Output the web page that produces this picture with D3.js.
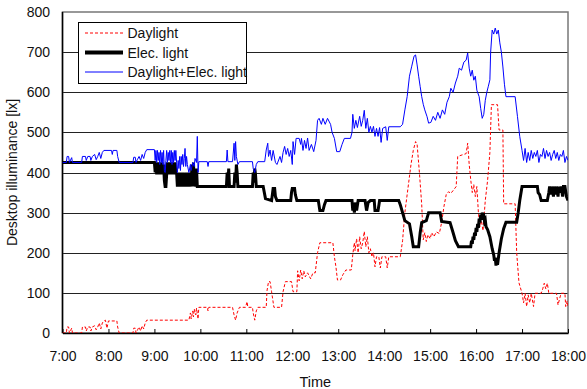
<!DOCTYPE html>
<html>
<head>
<meta charset="utf-8">
<script src="https://cdn.jsdelivr.net/npm/d3@7"></script>
<style>
  body { margin: 0; background: #fff; }
  text { font-family: "Liberation Sans", Arial, sans-serif; fill: #111; }
</style>
</head>
<body>
<div id="chart"></div>
<script>
const yTicks = [0, 100, 200, 300, 400, 500, 600, 700, 800];
const xStart = '7:00';
const xEnd = '18:00';

const seriesNames = ['Daylight', 'Elec. light', 'Daylight+Elec. light'];

// [time, lx]
const daylight = [
  ['7:00', 0], ['7:05', 0], ['7:06', 15], ['7:08', 15], ['7:09', 0], ['7:12', 12], ['7:13', 0],
  ['7:25', 0], ['7:26', 15], ['7:30', 15], ['7:31', 5], ['7:33', 15], ['7:36', 15], ['7:37', 5],
  ['7:39', 15], ['7:42', 18], ['7:44', 8], ['7:46', 15], ['7:48', 25], ['7:50', 10], ['7:52', 25],
  ['7:54', 30], ['7:56', 32], ['7:58', 12], ['8:00', 30], ['8:11', 30], ['8:12', 15], ['8:14', 0],
  ['8:32', 0], ['8:33', 12], ['8:35', 12], ['8:36', 0], ['8:38', 8], ['8:40', 15], ['8:42', 5],
  ['8:44', 18], ['8:46', 10], ['8:48', 25], ['8:50', 32], ['9:45', 32], ['9:47', 50], ['9:48', 35],
  ['9:50', 55], ['9:51', 40], ['9:52', 60], ['9:54', 45], ['9:55', 62], ['9:57', 35], ['9:58', 64],
  ['10:09', 64], ['10:10', 55], ['10:11', 64], ['10:42', 64], ['10:44', 45], ['10:46', 32],
  ['10:48', 50], ['10:51', 64], ['10:59', 64], ['11:01', 78], ['11:02', 64], ['11:08', 64],
  ['11:09', 50], ['11:11', 32], ['11:13', 55], ['11:15', 64], ['11:26', 64], ['11:27', 105],
  ['11:29', 128], ['11:31', 128], ['11:33', 103], ['11:36', 64], ['11:46', 64], ['11:48', 103],
  ['11:51', 128], ['11:59', 128], ['12:01', 103], ['12:06', 103], ['12:07', 155], ['12:09', 130],
  ['12:11', 157], ['12:13', 135], ['12:15', 155], ['12:17', 140], ['12:20', 150], ['12:24', 135],
  ['12:27', 150], ['12:30', 150], ['12:33', 200], ['12:36', 225], ['12:53', 225], ['12:55', 190],
  ['12:57', 165], ['12:59', 132], ['13:03', 132], ['13:06', 145], ['13:10', 157], ['13:17', 157],
  ['13:19', 195], ['13:21', 225], ['13:22', 205], ['13:24', 235], ['13:26', 200], ['13:28', 240],
  ['13:30', 210], ['13:32', 225], ['13:34', 253], ['13:36', 215], ['13:38', 240], ['13:40', 200],
  ['13:42', 210], ['13:44', 190], ['13:46', 200], ['13:48', 165], ['13:50', 190], ['13:53', 190],
  ['13:55', 162], ['13:57', 190], ['14:02', 190], ['14:04', 162], ['14:06', 190], ['14:21', 190],
  ['14:24', 230], ['14:27', 300], ['14:31', 360], ['14:35', 420], ['14:38', 455], ['14:41', 477],
  ['14:43', 470], ['14:46', 400], ['14:49', 320], ['14:51', 232], ['14:53', 250], ['14:55', 228],
  ['14:57', 245], ['15:00', 235], ['15:02', 250], ['15:05', 240], ['15:08', 252], ['15:12', 248],
  ['15:15', 275], ['15:18', 315], ['15:21', 345], ['15:24', 352], ['15:27', 348], ['15:30', 355],
  ['15:34', 365], ['15:36', 440], ['15:42', 444], ['15:47', 447], ['15:49', 473], ['15:51', 420],
  ['15:53', 382], ['15:55', 350], ['15:57', 370], ['15:59', 340], ['16:01', 365], ['16:03', 300],
  ['16:05', 265], ['16:07', 280], ['16:09', 255], ['16:12', 330], ['16:15', 380], ['16:18', 450],
  ['16:20', 569], ['16:28', 569], ['16:30', 506], ['16:35', 506], ['16:36', 322], ['16:51', 322],
  ['16:53', 200], ['16:56', 125], ['17:00', 99], ['17:02', 75], ['17:04', 99], ['17:06', 66],
  ['17:08', 95], ['17:10', 75], ['17:12', 99], ['17:15', 66], ['17:17', 99], ['17:25', 99],
  ['17:27', 110], ['17:29', 124], ['17:31', 110], ['17:33', 124], ['17:35', 99], ['17:45', 99],
  ['17:47', 70], ['17:49', 85], ['17:51', 99], ['17:56', 99], ['17:57', 66], ['17:59', 80],
  ['18:00', 66]
];

const elecLight = [
  ['7:00', 425], ['9:00', 425], ['9:01', 400], ['9:02', 425], ['9:03', 395], ['9:04', 425],
  ['9:05', 395], ['9:06', 425], ['9:07', 395], ['9:08', 425], ['9:09', 395], ['9:10', 425],
  ['9:11', 395], ['9:12', 420], ['9:13', 380], ['9:14', 365], ['9:15', 365], ['9:16', 395],
  ['9:17', 425], ['9:18', 395], ['9:19', 425], ['9:20', 395], ['9:21', 425], ['9:22', 395],
  ['9:23', 425], ['9:24', 395], ['9:25', 425], ['9:26', 395], ['9:27', 425], ['9:28', 395],
  ['9:29', 400], ['9:30', 365], ['9:31', 400], ['9:32', 365], ['9:33', 400], ['9:34', 365],
  ['9:35', 400], ['9:36', 365], ['9:37', 400], ['9:38', 365], ['9:39', 395], ['9:40', 365],
  ['9:41', 400], ['9:42', 365], ['9:43', 400], ['9:44', 365], ['9:45', 395], ['9:46', 365],
  ['9:47', 400], ['9:48', 365], ['9:49', 420], ['9:50', 365], ['9:51', 425], ['9:52', 370],
  ['9:53', 400], ['9:54', 365], ['9:55', 410], ['9:56', 365], ['10:34', 365], ['10:35', 400],
  ['10:36', 370], ['10:37', 410], ['10:38', 365], ['10:44', 365], ['10:45', 400], ['10:46', 375],
  ['10:47', 420], ['10:48', 400], ['10:49', 365], ['11:08', 365], ['11:09', 400], ['11:10', 375],
  ['11:11', 410], ['11:12', 395], ['11:13', 365], ['11:22', 365], ['11:25', 335], ['11:33', 330],
  ['11:34', 345], ['11:35', 360], ['11:37', 360], ['11:38', 340], ['11:40', 330], ['11:58', 330],
  ['11:59', 350], ['12:00', 360], ['12:03', 360], ['12:04', 345], ['12:06', 330], ['12:34', 330],
  ['12:36', 305], ['12:40', 305], ['12:42', 320], ['12:44', 330], ['13:18', 330], ['13:19', 305],
  ['13:20', 325], ['13:21', 300], ['13:23', 325], ['13:24', 305], ['13:26', 330], ['13:35', 330],
  ['13:37', 305], ['13:39', 325], ['13:42', 330], ['13:47', 330], ['13:48', 305], ['13:52', 305],
  ['13:54', 330], ['14:19', 330], ['14:21', 320], ['14:24', 300], ['14:27', 280], ['14:33', 272],
  ['14:36', 240], ['14:38', 215], ['14:45', 215], ['14:47', 250], ['14:49', 275], ['14:55', 280],
  ['14:58', 300], ['15:13', 300], ['15:15', 278], ['15:26', 275], ['15:30', 250], ['15:33', 230],
  ['15:37', 215], ['15:53', 215], ['15:54', 230], ['15:55', 222], ['15:56', 240], ['15:57', 232],
  ['15:58', 250], ['15:59', 242], ['16:00', 262], ['16:01', 252], ['16:02', 272], ['16:03', 262],
  ['16:04', 285], ['16:05', 275], ['16:06', 295], ['16:07', 282], ['16:08', 300], ['16:09', 290],
  ['16:10', 292], ['16:11', 278], ['16:12', 282], ['16:13', 265], ['16:15', 258], ['16:18', 240],
  ['16:21', 210], ['16:23', 195], ['16:24', 180], ['16:25', 188], ['16:26', 168], ['16:27', 182],
  ['16:28', 170], ['16:30', 200], ['16:33', 235], ['16:36', 260], ['16:39', 276], ['16:53', 276],
  ['16:55', 300], ['16:57', 330], ['17:00', 365], ['17:20', 365], ['17:21', 350], ['17:23', 345],
  ['17:25', 330], ['17:33', 330], ['17:35', 350], ['17:36', 365], ['17:38', 345], ['17:39', 365],
  ['17:41', 340], ['17:42', 365], ['17:44', 345], ['17:45', 365], ['17:47', 340], ['17:48', 365],
  ['17:50', 350], ['17:51', 365], ['17:53', 340], ['17:54', 365], ['17:56', 365], ['17:58', 340],
  ['18:00', 330]
];

const total = [
  ['7:00', 425], ['7:05', 425], ['7:06', 440], ['7:08', 440], ['7:09', 425], ['7:12', 437],
  ['7:13', 425], ['7:25', 425], ['7:26', 440], ['7:30', 440], ['7:31', 430], ['7:33', 440],
  ['7:36', 440], ['7:37', 430], ['7:39', 440], ['7:42', 445], ['7:44', 432], ['7:46', 440],
  ['7:48', 450], ['7:50', 435], ['7:52', 450], ['7:54', 455], ['8:04', 455], ['8:05', 445],
  ['8:06', 455], ['8:11', 455], ['8:12', 440], ['8:14', 425], ['8:32', 425], ['8:33', 438],
  ['8:35', 438], ['8:36', 425], ['8:38', 433], ['8:40', 440], ['8:42', 430], ['8:44', 445],
  ['8:46', 435], ['8:48', 450], ['8:50', 457], ['9:00', 457], ['9:01', 430], ['9:02', 455],
  ['9:03', 425], ['9:04', 455], ['9:05', 430], ['9:06', 450], ['9:07', 420], ['9:08', 455],
  ['9:09', 425], ['9:10', 450], ['9:11', 420], ['9:12', 455], ['9:13', 405], ['9:14', 400],
  ['9:15', 430], ['9:16', 455], ['9:17', 425], ['9:18', 450], ['9:19', 430], ['9:20', 455],
  ['9:21', 425], ['9:22', 455], ['9:23', 420], ['9:24', 450], ['9:25', 425], ['9:26', 455],
  ['9:27', 430], ['9:28', 455], ['9:29', 425], ['9:30', 400], ['9:31', 430], ['9:32', 410],
  ['9:33', 440], ['9:34', 405], ['9:35', 440], ['9:36', 420], ['9:37', 445], ['9:38', 415],
  ['9:39', 435], ['9:40', 460], ['9:41', 415], ['9:42', 440], ['9:43', 420], ['9:45', 400],
  ['9:47', 420], ['9:48', 405], ['9:50', 425], ['9:52', 415], ['9:53', 435], ['9:55', 425],
  ['9:56', 490], ['9:57', 400], ['9:58', 427], ['10:09', 427], ['10:10', 415], ['10:11', 427],
  ['10:34', 427], ['10:35', 456], ['10:36', 427], ['10:42', 427], ['10:44', 473], ['10:45', 430],
  ['10:46', 477], ['10:47', 440], ['10:49', 420], ['10:51', 427], ['11:08', 427], ['11:09', 410],
  ['11:11', 400], ['11:13', 420], ['11:15', 427], ['11:24', 427], ['11:26', 456], ['11:28', 473],
  ['11:29', 440], ['11:31', 456], ['11:33', 430], ['11:35', 455], ['11:38', 425], ['11:40', 420],
  ['11:44', 440], ['11:46', 425], ['11:48', 450], ['11:50', 465], ['11:52', 445], ['11:54', 460],
  ['11:56', 440], ['11:58', 455], ['12:00', 420], ['12:01', 477], ['12:03', 445], ['12:05', 485],
  ['12:09', 485], ['12:11', 470], ['12:12', 485], ['12:14', 455], ['12:16', 480], ['12:18', 460],
  ['12:20', 486], ['12:22', 455], ['12:25', 470], ['12:28', 452], ['12:31', 480], ['12:33', 530],
  ['12:35', 535], ['12:38', 520], ['12:40', 535], ['12:43', 520], ['12:46', 535], ['12:50', 520],
  ['12:52', 500], ['12:55', 485], ['12:58', 452], ['13:02', 452], ['13:05', 470], ['13:08', 485],
  ['13:16', 485], ['13:18', 500], ['13:19', 545], ['13:21', 510], ['13:23', 530], ['13:25', 512],
  ['13:28', 540], ['13:30', 515], ['13:32', 530], ['13:34', 555], ['13:36', 510], ['13:38', 535],
  ['13:40', 500], ['13:42', 515], ['13:44', 500], ['13:46', 515], ['13:48', 490], ['13:50', 510],
  ['13:52', 490], ['13:54', 512], ['13:56', 475], ['13:58', 510], ['14:02', 514], ['14:04', 480],
  ['14:06', 514], ['14:21', 514], ['14:24', 520], ['14:27', 556], ['14:30', 589], ['14:33', 640],
  ['14:36', 665], ['14:39', 690], ['14:41', 693], ['14:43', 668], ['14:45', 640], ['14:47', 614],
  ['14:49', 589], ['14:51', 570], ['14:53', 556], ['14:56', 539], ['14:58', 523], ['15:01', 525],
  ['15:04', 540], ['15:07', 530], ['15:10', 550], ['15:13', 535], ['15:16', 556], ['15:19', 545],
  ['15:22', 575], ['15:25', 589], ['15:27', 610], ['15:30', 600], ['15:33', 623], ['15:36', 640],
  ['15:38', 660], ['15:41', 655], ['15:44', 675], ['15:47', 680], ['15:49', 698], ['15:51', 660],
  ['15:53', 640], ['15:55', 655], ['15:57', 630], ['15:59', 640], ['16:01', 605], ['16:04', 589],
  ['16:06', 560], ['16:08', 535], ['16:10', 545], ['16:12', 580], ['16:14', 600], ['16:16', 615],
  ['16:18', 631], ['16:19', 700], ['16:21', 755], ['16:23', 745], ['16:25', 760], ['16:27', 745],
  ['16:29', 755], ['16:31', 723], ['16:33', 700], ['16:35', 663], ['16:37', 620], ['16:39', 589],
  ['16:51', 589], ['16:54', 540], ['16:57', 490], ['17:00', 455], ['17:02', 430], ['17:04', 460],
  ['17:06', 425], ['17:08', 450], ['17:10', 430], ['17:12', 455], ['17:14', 435], ['17:16', 450],
  ['17:18', 440], ['17:20', 455], ['17:22', 425], ['17:24', 445], ['17:26', 440], ['17:28', 460],
  ['17:30', 435], ['17:32', 455], ['17:34', 440], ['17:36', 450], ['17:38', 430], ['17:40', 445],
  ['17:42', 455], ['17:44', 435], ['17:46', 450], ['17:48', 430], ['17:50', 445], ['17:52', 440],
  ['17:54', 455], ['17:56', 425], ['17:58', 440], ['18:00', 430]
];

const width = 587;
const height = 389;
const margin = { top: 12, right: 19, bottom: 56, left: 62.5 };

const parseTime = d3.timeParse('%H:%M');

const svg = d3.select('#chart')
  .append('svg')
  .attr('width', width)
  .attr('height', height);

const x = d3.scaleTime()
  .domain([parseTime(xStart), parseTime(xEnd)])
  .range([margin.left, width - margin.right]);

const y = d3.scaleLinear()
  .domain([0, 800])
  .range([height - margin.bottom, margin.top]);

// horizontal grid
svg.append('g')
  .selectAll('line')
  .data(yTicks.slice(1, -1))
  .join('line')
  .attr('x1', margin.left)
  .attr('x2', width - margin.right)
  .attr('y1', d => Math.round(y(d)) + 0.5)
  .attr('y2', d => Math.round(y(d)) + 0.5)
  .attr('stroke', '#222')
  .attr('stroke-width', 1);

// top/right frame in grey
svg.append('rect')
  .attr('x', margin.left)
  .attr('y', margin.top)
  .attr('width', width - margin.right - margin.left)
  .attr('height', height - margin.bottom - margin.top)
  .attr('fill', 'none')
  .attr('stroke', '#777')
  .attr('stroke-width', 1.5);

// y labels
svg.append('g')
  .selectAll('text')
  .data(yTicks)
  .join('text')
  .attr('x', 50)
  .attr('y', d => y(d))
  .attr('dy', '0.36em')
  .attr('text-anchor', 'end')
  .attr('font-size', 14)
  .text(d => d);

// x axis with inward ticks
const xAxis = d3.axisBottom(x)
  .ticks(d3.timeHour.every(1))
  .tickFormat(d3.timeFormat('%-H:%M'))
  .tickSizeInner(-4)
  .tickSizeOuter(0)
  .tickPadding(18);

const gx = svg.append('g')
  .attr('transform', `translate(0,${height - margin.bottom})`)
  .call(xAxis);
gx.select('.domain').attr('stroke', '#000').attr('stroke-width', 1.5);
gx.selectAll('.tick line').attr('stroke', '#000').attr('stroke-width', 1);
gx.selectAll('.tick text')
  .attr('font-size', 14)
  .attr('font-family', '"Liberation Sans", Arial, sans-serif')
  .attr('fill', '#111');

// left axis line
svg.append('line')
  .attr('x1', margin.left).attr('x2', margin.left)
  .attr('y1', margin.top).attr('y2', height - margin.bottom)
  .attr('stroke', '#000')
  .attr('stroke-width', 1.5);

// axis titles
svg.append('text')
  .attr('x', (margin.left + width - margin.right) / 2)
  .attr('y', 387)
  .attr('text-anchor', 'middle')
  .attr('font-size', 14.5)
  .text('Time');

svg.append('text')
  .attr('transform', `translate(17,${(margin.top + height - margin.bottom) / 2}) rotate(-90)`)
  .attr('text-anchor', 'middle')
  .attr('font-size', 14)
  .text('Desktop illuminance [lx]');

svg.append('clipPath')
  .attr('id', 'plot-clip')
  .append('rect')
  .attr('x', margin.left)
  .attr('y', margin.top)
  .attr('width', width - margin.right - margin.left)
  .attr('height', height - margin.bottom - margin.top);

const line = d3.line()
  .x(d => x(parseTime(d[0])))
  .y(d => y(d[1]));

const styles = [
  { data: daylight, color: '#ff0000', width: 1, dash: '3,2' },
  { data: elecLight, color: '#000000', width: 3, dash: null },
  { data: total, color: '#0000ff', width: 1, dash: null }
];

const plot = svg.append('g').attr('clip-path', 'url(#plot-clip)');
styles.forEach(s => {
  plot.append('path')
    .datum(s.data)
    .attr('d', line)
    .attr('fill', 'none')
    .attr('stroke', s.color)
    .attr('stroke-width', s.width)
    .attr('stroke-dasharray', s.dash)
    .attr('stroke-linejoin', 'miter');
});

// legend
const legend = svg.append('g');
legend.append('rect')
  .attr('x', 78.5)
  .attr('y', 22.5)
  .attr('width', 168)
  .attr('height', 61)
  .attr('fill', '#fff')
  .attr('stroke', '#000')
  .attr('stroke-width', 1);

const legendRows = [33, 52.5, 72];
seriesNames.forEach((name, i) => {
  const s = styles[i];
  legend.append('line')
    .attr('x1', 85).attr('x2', 123)
    .attr('y1', legendRows[i]).attr('y2', legendRows[i])
    .attr('stroke', s.color)
    .attr('stroke-width', i === 1 ? 4 : 1)
    .attr('stroke-dasharray', s.dash);
  legend.append('text')
    .attr('x', 127.5)
    .attr('y', legendRows[i])
    .attr('dy', '0.36em')
    .attr('font-size', 14)
    .text(name);
});
</script>
</body>
</html>
